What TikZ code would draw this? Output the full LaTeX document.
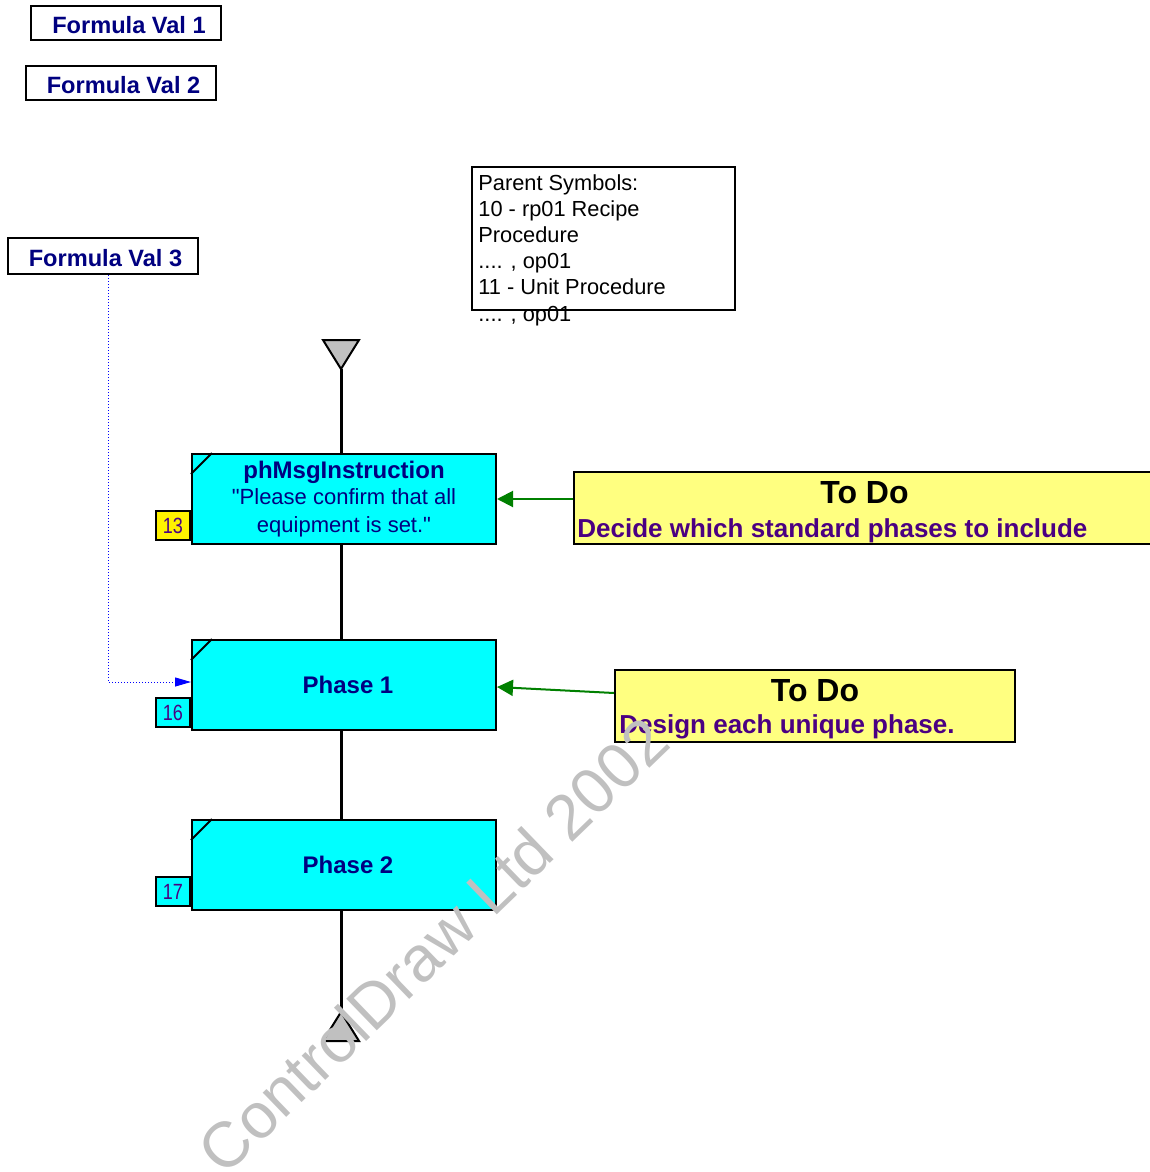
\documentclass[tikz,border=0pt]{standalone}
\usepackage{fontspec}
\setmainfont{Liberation Sans}[Ligatures=TeXOff]
\usepackage{tikz}
\usetikzlibrary{arrows.meta,positioning}
\definecolor{phcyan}{RGB}{0,255,255}
\definecolor{phnavy}{RGB}{0,0,128}
\definecolor{noteyellow}{RGB}{255,255,128}
\definecolor{notepurple}{RGB}{75,0,130}
\definecolor{linkgreen}{RGB}{0,128,0}
\definecolor{termgray}{RGB}{192,192,192}
\tikzset{
  phasebox/.style={draw,fill=phcyan,line width=1pt,minimum width=152pt,minimum height=45pt,inner sep=0pt,align=center,text=phnavy,font=\bfseries\fontsize{12}{14}\selectfont},
  stepnum/.style={draw,line width=1pt,minimum width=17pt,minimum height=14.5pt,inner sep=0pt,text=notepurple,font=\fontsize{11}{13}\selectfont},
  formulabox/.style={draw,line width=1pt,minimum width=95pt,minimum height=17pt,inner sep=0pt,text height=10.5pt,text=phnavy,font=\bfseries\fontsize{11.8}{14}\selectfont,execute at begin node=\hspace*{3pt}},
  todobox/.style={draw,fill=noteyellow,line width=1pt,minimum height=36pt,inner sep=0pt},
  todohead/.style={anchor=base,inner sep=0pt,font=\bfseries\fontsize{16}{19}\selectfont},
  todotext/.style={anchor=base west,inner sep=0pt,text=notepurple,font=\bfseries\fontsize{13}{15}\selectfont},
  notelink/.style={linkgreen,line width=1pt,-{Triangle[length=8pt,width=8pt]}},
  formulalink/.style={blue,line width=0.5pt,densely dotted,-{Triangle[length=8pt,width=4.5pt]}},
  terminal/.style={draw,fill=termgray,line width=1pt},
}
\begin{document}
\begin{tikzpicture}[x=0.5pt,y=-0.5pt]
  \useasboundingbox (0,0) rectangle (1150,1172);
  \node[formulabox] (fv1) at (126,23) {Formula Val 1};
  \node[formulabox] (fv2) at (120.5,83) {Formula Val 2};
  \node[formulabox,minimum height=18pt] (fv3) at (102.5,256) {Formula Val 3};
  \node[draw,line width=1pt,minimum width=131.5pt,minimum height=71.5pt] (parent) at (603.5,238.5) {};
  \node[anchor=north west,inner sep=0pt,align=left,font=\fontsize{10.9}{13.1}\selectfont] (parenttxt) at ([xshift=3.5pt,yshift=-4pt]parent.north west)
    {Parent Symbols:\\10 - rp01 Recipe\\Procedure\\.... , op01\\11 - Unit Procedure\\.... , op01};

  \coordinate (top) at (341,369); \coordinate (bot) at (341,1012);
  \node[phasebox] (msg) at (344,499) {phMsgInstruction\\[-1pt]\mdseries\fontsize{11}{13}\selectfont "Please confirm that all\\\mdseries\fontsize{11}{13}\selectfont equipment is set."};
  \node[phasebox] (ph1) at (344,685) {\hspace*{4pt}Phase 1};
  \node[phasebox] (ph2) at (344,865) {\hspace*{4pt}Phase 2};
  \foreach \p in {msg,ph1,ph2} \draw[line width=1pt] ([yshift=-10.5pt]\p.north west) -- ([xshift=10.5pt]\p.north west);
  \node[stepnum,fill=yellow,anchor=south east] (n13) at ([yshift=2pt]msg.south west) {\scalebox{0.82}[1]{13}};
  \node[stepnum,fill=phcyan,anchor=south east] (n16) at ([yshift=1.5pt]ph1.south west) {\scalebox{0.82}[1]{16}};
  \node[stepnum,fill=phcyan,anchor=south east] (n17) at ([yshift=2pt]ph2.south west) {\scalebox{0.82}[1]{17}};

  \draw[line width=1.5pt] (top) -- (top |- msg.north) (top |- msg.south) -- (top |- ph1.north)
    (top |- ph1.south) -- (top |- ph2.north) (top |- ph2.south) -- (bot);
  \draw[terminal] (top) -- ++(-18,-29) -- ++(36,0) -- cycle;
  \draw[terminal] (bot) -- ++(-18,29) -- ++(36,0) -- cycle;

  \node[todobox,minimum width=290.5pt] (todo1) at (864.5,508) {};
  \node[todohead] (todo1h) at ([yshift=-16pt]todo1.north) {To Do};
  \node[todotext] (todo1t) at ([xshift=2pt,yshift=-33pt]todo1.north west) {Decide which standard phases to include};
  \node[todobox,minimum width=200pt] (todo2) at (815,706) {};
  \node[todohead] (todo2h) at ([yshift=-16pt]todo2.north) {To Do};
  \node[todotext] (todo2t) at ([xshift=2.5pt,yshift=-32pt]todo2.north west) {Design each unique phase.};

  \draw[notelink] (todo1.west |- msg.east) -- (msg.east);
  \draw[notelink] ([yshift=6.5pt]todo2.west) -- ([yshift=-1pt]ph1.east);
  \draw[formulalink] ([xshift=2.75pt]fv3.south) |- ([yshift=1.5pt]ph1.west);

  \node[text=termgray,font=\fontsize{32}{40}\selectfont,rotate=44] (wm) at (433,945) {ControlDraw Ltd 2002};
\end{tikzpicture}
\end{document}
